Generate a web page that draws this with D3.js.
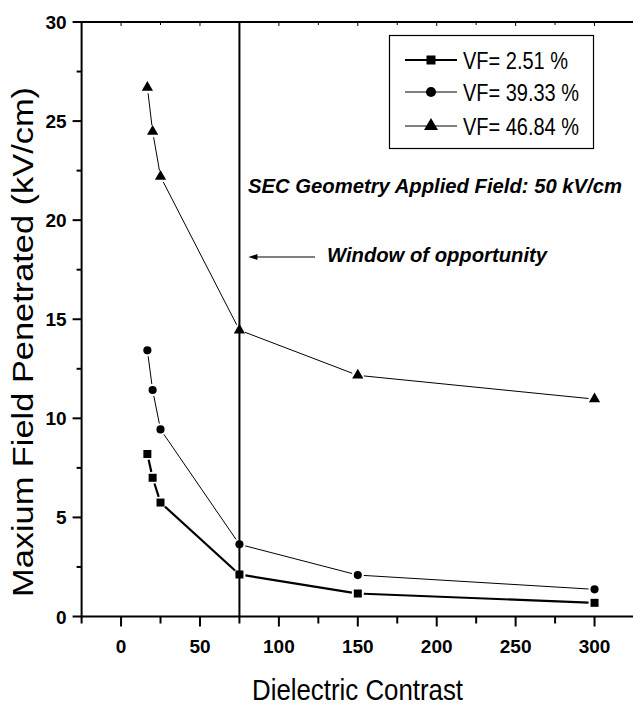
<!DOCTYPE html>
<html>
<head>
<meta charset="utf-8">
<script src="https://cdn.jsdelivr.net/npm/d3@7/dist/d3.min.js"></script>
<style>
  html, body { margin: 0; padding: 0; background: #fff; }
  svg { display: block; }
</style>
</head>
<body>
<svg id="chart" width="633" height="706"></svg>
<script>
// Dielectric contrast values shared by all three series
const contrast = [16.67, 20, 25, 75, 150, 300];
// Maximum penetrated field (kV/cm) for each volume fraction
const vf251 = [8.2, 7.0, 5.75, 2.12, 1.16, 0.69];
const vf3933 = [13.43, 11.43, 9.44, 3.64, 2.09, 1.37];
const vf4684 = [26.7, 24.48, 22.2, 14.45, 12.17, 10.97];
const seriesNames = ["VF= 2.51 %", "VF= 39.33 %", "VF= 46.84 %"];
const xTicks = [0, 50, 100, 150, 200, 250, 300];
const yTicks = [0, 5, 10, 15, 20, 25, 30];
const windowContrast = 75;

const svg = d3.select("#chart");
const x = d3.scaleLinear().domain([-25, 325]).range([81.6, 634]);
const y = d3.scaleLinear().domain([0, 30]).range([616.5, 22]);

const narrow = "'Liberation Sans Narrow', 'Arial Narrow', 'Liberation Sans', Arial, sans-serif";
const sans = "'Liberation Sans', Arial, sans-serif";

// Bottom axis: outward ticks every 25
const gx = svg.append("g").attr("transform", `translate(0,${y(0)})`);
gx.append("line").attr("x1", x(-25)).attr("x2", x(325)).attr("stroke", "#000").attr("stroke-width", 2);
d3.range(-25, 326, 25).forEach(v => {
  const major = v % 50 === 0;
  gx.append("line").attr("x1", x(v)).attr("x2", x(v)).attr("y1", 0).attr("y2", major ? 10 : 7)
    .attr("stroke", "#000").attr("stroke-width", 2);
});
gx.selectAll("text.tick").data(xTicks).enter().append("text")
  .attr("x", d => x(d)).attr("y", 36).attr("text-anchor", "middle")
  .style("font-family", narrow).style("font-weight", "bold").style("font-size", "19px")
  .text(d => d);

// Top axis: small inward ticks
const gt = svg.append("g").attr("transform", `translate(0,${y(30)})`);
gt.append("line").attr("x1", x(-25) - 1).attr("x2", x(325)).attr("stroke", "#000").attr("stroke-width", 2);
d3.range(0, 326, 25).forEach(v => {
  gt.append("line").attr("x1", x(v)).attr("x2", x(v)).attr("y1", 0).attr("y2", v % 50 === 0 ? 4 : 3)
    .attr("stroke", "#000").attr("stroke-width", 1);
});

// Left axis: outward ticks every 2.5
const gy = svg.append("g").attr("transform", `translate(${x(-25)},0)`);
gy.append("line").attr("y1", y(0) + 1).attr("y2", y(30) - 1).attr("stroke", "#000").attr("stroke-width", 2);
d3.range(0, 30.1, 2.5).forEach(v => {
  const major = v % 5 === 0;
  gy.append("line").attr("x1", 0).attr("x2", major ? -9 : -5).attr("y1", y(v)).attr("y2", y(v))
    .attr("stroke", "#000").attr("stroke-width", 2);
});
gy.selectAll("text.tick").data(yTicks).enter().append("text")
  .attr("x", -15).attr("y", d => y(d) + 7).attr("text-anchor", "end")
  .style("font-family", narrow).style("font-weight", "bold").style("font-size", "19px")
  .text(d => d);

// Axis titles
svg.append("text")
  .attr("transform", `translate(33,342) rotate(-90)`)
  .attr("text-anchor", "middle")
  .attr("textLength", 510).attr("lengthAdjust", "spacingAndGlyphs")
  .style("font-family", sans).style("font-size", "29px")
  .text("Maxium Field Penetrated (kV/cm)");
svg.append("text")
  .attr("x", 357.5).attr("y", 700).attr("text-anchor", "middle")
  .attr("textLength", 211).attr("lengthAdjust", "spacingAndGlyphs")
  .style("font-family", narrow).style("font-size", "30px")
  .text("Dielectric Contrast");

// Vertical marker at the window of opportunity
svg.append("line")
  .attr("x1", x(windowContrast)).attr("x2", x(windowContrast))
  .attr("y1", y(30)).attr("y2", y(0))
  .attr("stroke", "#000").attr("stroke-width", 2);

// Series: Origin-style lines that stop short of each symbol
const series = [
  { name: seriesNames[0], values: vf251, symbol: d3.symbolSquare, size: 64, legendSize: 81, width: 2.2 },
  { name: seriesNames[1], values: vf3933, symbol: d3.symbolCircle, size: 52, legendSize: 80, width: 1 },
  { name: seriesNames[2], values: vf4684, symbol: d3.symbolTriangle, size: 55, legendSize: 85, width: 1 }
];
const gap = 6;
series.forEach(s => {
  const pts = contrast.map((c, i) => [x(c), y(s.values[i])]);
  const g = svg.append("g");
  for (let i = 0; i < pts.length - 1; i++) {
    const [x0, y0] = pts[i], [x1, y1] = pts[i + 1];
    const len = Math.hypot(x1 - x0, y1 - y0);
    if (len <= 2 * gap) continue;
    const ux = (x1 - x0) / len, uy = (y1 - y0) / len;
    g.append("path")
      .attr("d", d3.line()([[x0 + ux * gap, y0 + uy * gap], [x1 - ux * gap, y1 - uy * gap]]))
      .attr("stroke", "#000").attr("stroke-width", s.width).attr("fill", "none");
  }
  g.selectAll("path.sym").data(pts).enter().append("path")
    .attr("transform", d => `translate(${d[0]},${d[1]})`)
    .attr("d", d3.symbol().type(s.symbol).size(s.size))
    .attr("fill", "#000");
});

// Legend
const lg = svg.append("g");
lg.append("rect").attr("x", 389.5).attr("y", 35.5).attr("width", 204).attr("height", 113)
  .attr("fill", "#fff").attr("stroke", "#000").attr("stroke-width", 1.2);
const rowY = [60, 92, 126];
series.forEach((s, i) => {
  lg.append("line").attr("x1", 405).attr("x2", 457).attr("y1", rowY[i]).attr("y2", rowY[i])
    .attr("stroke", "#000").attr("stroke-width", s.width);
  lg.append("path").attr("transform", `translate(431,${rowY[i]})`)
    .attr("d", d3.symbol().type(s.symbol).size(s.legendSize)).attr("fill", "#000");
  lg.append("text").attr("x", 463).attr("y", rowY[i] + 9)
    .attr("textLength", i === 0 ? 105 : 116).attr("lengthAdjust", "spacingAndGlyphs")
    .style("font-family", narrow).style("font-size", "24px")
    .text(s.name);
});

// Annotations
svg.append("text").attr("x", 248).attr("y", 193)
  .attr("textLength", 374).attr("lengthAdjust", "spacingAndGlyphs")
  .style("font-family", sans).style("font-weight", "bold").style("font-style", "italic").style("font-size", "20px")
  .text("SEC Geometry Applied Field: 50 kV/cm");
svg.append("text").attr("x", 327).attr("y", 262)
  .attr("textLength", 220).attr("lengthAdjust", "spacingAndGlyphs")
  .style("font-family", sans).style("font-weight", "bold").style("font-style", "italic").style("font-size", "20px")
  .text("Window of opportunity");

// Arrow pointing at the vertical marker
const ax0 = 315, ax1 = x(windowContrast) + 9, ay = 257;
svg.append("line").attr("x1", ax0).attr("x2", ax1 + 6).attr("y1", ay).attr("y2", ay)
  .attr("stroke", "#000").attr("stroke-width", 1.2);
svg.append("path")
  .attr("d", `M${ax1},${ay} L${ax1 + 9},${ay - 3} L${ax1 + 9},${ay + 3} Z`)
  .attr("fill", "#000");
</script>
</body>
</html>
